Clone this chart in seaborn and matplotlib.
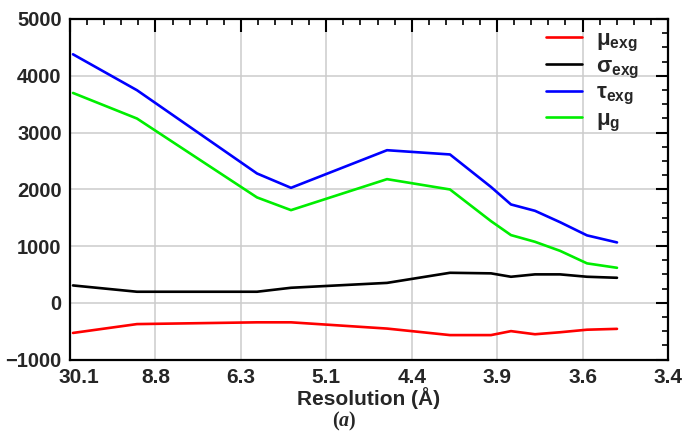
import numpy as np
import pandas as pd
import seaborn as sns
import matplotlib
matplotlib.use("Agg")
import matplotlib.pyplot as plt
from matplotlib.ticker import MultipleLocator, FixedLocator, FixedFormatter
from matplotlib.transforms import ScaledTranslation

# Resolution shells, placed on the evenly spaced resolution axis (tick units)
shell_pos = [0.035, 0.784, 2.189, 2.587, 3.711, 4.448, 4.928, 5.162, 5.443, 5.736, 6.052, 6.403]

mu_exg = [-532, -376, -345, -345, -455, -570, -570, -500, -555, -520, -475, -460]
sigma_exg = [305, 194, 194, 264, 350, 528, 518, 458, 500, 500, 458, 440]
tau_exg = [4378, 3745, 2278, 2025, 2688, 2613, 2040, 1732, 1620, 1420, 1187, 1063]
mu_g = [3697, 3246, 1856, 1632, 2178, 1996, 1438, 1192, 1074, 915, 694, 616]

res_ticks = [0, 1, 2, 3, 4, 5, 6, 7]
res_labels = ["30.1", "8.8", "6.3", "5.1", "4.4", "3.9", "3.6", "3.4"]

series_names = ["μ$_{\\mathbf{exg}}$", "σ$_{\\mathbf{exg}}$", "τ$_{\\mathbf{exg}}$", "μ$_{\\mathbf{g}}$"]
series_values = [mu_exg, sigma_exg, tau_exg, mu_g]
series_colors = ["#ff0000", "#000000", "#0000ff", "#00ee00"]

df = pd.DataFrame({
    "pos": np.tile(shell_pos, len(series_names)),
    "value": np.concatenate(series_values),
    "series": np.repeat(series_names, len(shell_pos)),
})

sns.set_theme(style="white")
plt.rcParams["font.family"] = ["Liberation Sans", "DejaVu Sans"]
plt.rcParams["font.weight"] = "bold"
plt.rcParams["mathtext.fontset"] = "custom"
plt.rcParams["mathtext.rm"] = "Liberation Serif"
plt.rcParams["mathtext.it"] = "Liberation Serif:italic"
plt.rcParams["mathtext.bf"] = "Liberation Sans:bold"

fig = plt.figure(figsize=(6.82, 4.33), dpi=100)
ax = fig.add_axes([70 / 682, 1 - 359.5 / 433, 598 / 682, (359.5 - 19) / 433])

sns.lineplot(data=df, x="pos", y="value", hue="series", hue_order=series_names,
             palette=dict(zip(series_names, series_colors)), linewidth=1.9,
             ax=ax, legend=False, zorder=3)

ax.set_xlim(0, 7)
ax.set_ylim(-1000, 5000)
ax.xaxis.set_major_locator(FixedLocator(res_ticks))
ax.xaxis.set_major_formatter(FixedFormatter(res_labels))
ax.xaxis.set_minor_locator(MultipleLocator(0.2))
ax.yaxis.set_major_locator(MultipleLocator(1000))
ax.yaxis.set_minor_locator(MultipleLocator(250))

ax.grid(True, which="major", color="#cccccc", linewidth=1.1, zorder=0)
for s in ax.spines.values():
    s.set_linewidth(1.6)
    s.set_color("black")

ax.tick_params(which="both", direction="in", top=True, right=True, color="black")
ax.tick_params(which="major", length=9, width=1.5)
ax.tick_params(which="minor", length=4.5, width=1.2)
ax.tick_params(axis="x", which="major", labelsize=15, pad=6)
ax.tick_params(axis="y", which="major", labelsize=14.5, pad=6)
for lab in ax.get_xticklabels() + ax.get_yticklabels():
    lab.set_fontweight("bold")

first = ax.get_xticklabels()[0]
first.set_transform(first.get_transform() + ScaledTranslation(0.09, 0, fig.dpi_scale_trans))

ax.set_xlabel("Resolution (Å)", fontsize=15, fontweight="bold", labelpad=0)
ax.set_ylabel("")

handles = [plt.Line2D([], [], color=c, linewidth=1.9) for c in series_colors]
leg = ax.legend(handles, series_names, loc="upper left",
                bbox_to_anchor=(535 / 682, 1 - 18 / 433), bbox_transform=fig.transFigure,
                frameon=False, prop={"size": 16, "weight": "bold"},
                handlelength=1.6, handletextpad=0.63, labelspacing=0.12, borderpad=0)

fig.text(344 / 682, 1 - 421 / 433, "$(a)$", ha="center", va="center", fontsize=14.5,
         fontweight="normal")

fig.savefig("out.png", dpi=100)
